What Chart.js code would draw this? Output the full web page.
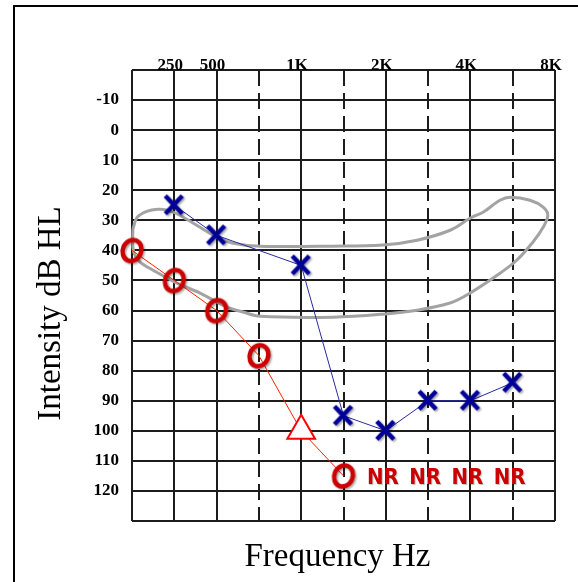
<!DOCTYPE html>
<html>
<head>
<meta charset="utf-8">
<title>Audiogram</title>
<script src="https://cdn.jsdelivr.net/npm/chart.js@4.4.1/dist/chart.umd.min.js"></script>
<style>
  html, body { margin: 0; padding: 0; background: #fff; overflow: hidden; }
  #wrap { position: relative; width: 578px; height: 582px; }
  #frame { position: absolute; left: 13px; top: 5px; right: -10px; bottom: -10px;
           border-left: 2px solid #000; border-top: 2px solid #000; pointer-events: none; }
</style>
</head>
<body>
<div id="wrap"><canvas id="audiogram"></canvas><div id="frame"></div></div>
<script>
// Frequency columns (index along the x axis) and their labels
const freqSteps = [0, 1, 2, 3, 4, 5, 6, 7, 8, 9, 10];
const freqLabels = ['', '250', '500', '', '1K', '', '2K', '', '4K', '', '8K'];
const octaveLines = [0, 1, 2, 4, 6, 8, 10];
const halfOctaveLines = [3, 5, 7, 9];
const dbMin = -20;
const dbMax = 130;

// Right ear: O, one masked point as a triangle
const rightFreq = [0, 1, 2, 3, 4, 5];
const rightDb = [40, 50, 60, 75, 100, 115];
const rightSymbol = ['O', 'O', 'O', 'O', 'tri', 'O'];

// Left ear: X
const leftFreq = [1, 2, 4, 5, 6, 7, 8, 9];
const leftDb = [25, 35, 45, 95, 100, 90, 90, 84];

// No response
const nrFreq = [6, 7, 8, 9];
const nrDb = [115, 115, 115, 115];

// Speech banana outline
const bananaFreq = [0.02, 0.12, 0.35, 0.61, 0.83, 1.13, 1.61, 2.01, 2.39, 3.03, 4.75, 5.93, 6.74, 7.52, 7.99, 8.30, 8.70, 8.94, 9.41, 9.72, 9.83,
                    9.72, 9.48, 9.10, 8.70, 7.99, 7.52, 6.74, 5.93, 4.75, 3.03, 2.62, 2.25, 1.61, 1.06, 0.50, 0.19, 0.07, 0.02, 0.02];
const bananaDb = [33, 29, 27, 26.3, 26.6, 28.3, 32.3, 35.6, 37.6, 38.6, 38.6, 38.2, 36.6, 33.3, 29.3, 27.3, 23.3, 22.3, 23.3, 25.6, 28.3,
                  32.3, 37.2, 43.2, 47.6, 54.2, 57.5, 59.9, 61.2, 62.2, 61.9, 60.5, 58.9, 54.2, 50.9, 46.6, 43.9, 41.6, 38.9, 33];

const gridColor = '#1c1c1c';

// marker images
function makeO() {
  const c = document.createElement('canvas');
  c.width = 32; c.height = 32;
  const g = c.getContext('2d');
  g.shadowColor = 'rgba(0,0,0,0.35)';
  g.shadowOffsetX = 1.5; g.shadowOffsetY = 1.5; g.shadowBlur = 2;
  g.strokeStyle = '#cc0000';
  g.lineWidth = 4.5;
  g.beginPath();
  g.ellipse(16, 16, 9.2, 10.8, 0.4, 0, Math.PI * 2);
  g.stroke();
  return c;
}

function makeX() {
  const c = document.createElement('canvas');
  c.width = 26; c.height = 26;
  const g = c.getContext('2d');
  g.shadowColor = 'rgba(0,0,0,0.35)';
  g.shadowOffsetX = 1.5; g.shadowOffsetY = 1.5; g.shadowBlur = 2;
  g.strokeStyle = '#000099';
  g.lineWidth = 4.5;
  g.beginPath();
  g.moveTo(4, 3.5); g.lineTo(21, 21.5);
  g.moveTo(21, 3.5); g.lineTo(4, 21.5);
  g.stroke();
  return c;
}

const oMark = makeO();
const xMark = makeX();

const extras = {
  id: 'extras',
  afterDatasetsDraw(chart) {
    const { ctx, chartArea, scales: { x, y } } = chart;
    ctx.save();
    // NR labels
    ctx.font = 'bold 22px "DejaVu Sans Condensed", "DejaVu Sans"';
    ctx.fillStyle = '#cc0000';
    ctx.textAlign = 'center';
    ctx.textBaseline = 'middle';
    ctx.shadowColor = 'rgba(0,0,0,0.25)';
    ctx.shadowOffsetX = 1;
    ctx.shadowOffsetY = 1;
    ctx.shadowBlur = 1;
    nrFreq.forEach((f, i) => {
      ctx.fillText('NR', x.getPixelForValue(f) - 3, y.getPixelForValue(nrDb[i]) + 2);
    });
    ctx.shadowColor = 'transparent';
    // axis titles
    ctx.fillStyle = '#000';
    ctx.font = '33px "Liberation Serif"';
    ctx.textBaseline = 'alphabetic';
    ctx.fillText('Frequency Hz', (chartArea.left + chartArea.right) / 2 - 6, chartArea.bottom + 45);
    ctx.translate(60, (chartArea.top + chartArea.bottom) / 2 + 18);
    ctx.rotate(-Math.PI / 2);
    ctx.fillText('Intensity dB HL', 0, 0);
    ctx.restore();
  }
};

const labelFont = { family: 'Liberation Serif', weight: 'bold', size: 17 };

new Chart(document.getElementById('audiogram'), {
  type: 'scatter',
  data: {
    datasets: [
      {
        label: 'Left ear',
        data: leftFreq.map((f, i) => ({ x: f, y: leftDb[i] })),
        showLine: true,
        borderColor: '#2a2aa0',
        borderWidth: 1,
        pointStyle: xMark,
        clip: false,
        order: 1
      },
      {
        label: 'Right ear',
        data: rightFreq.map((f, i) => ({ x: f, y: rightDb[i] })),
        showLine: true,
        borderColor: '#ff2200',
        borderWidth: 1,
        pointStyle: rightSymbol.map(s => s === 'O' ? oMark : 'triangle'),
        pointRadius: 16,
        pointBorderColor: '#ff0000',
        pointBackgroundColor: '#ffffff',
        pointBorderWidth: 2,
        clip: false,
        order: 2
      },
      {
        label: 'Speech banana',
        data: bananaFreq.map((f, i) => ({ x: f, y: bananaDb[i] })),
        showLine: true,
        borderColor: '#a3a3a3',
        borderWidth: 3,
        tension: 0.35,
        pointRadius: 0,
        clip: false,
        order: 3
      }
    ]
  },
  options: {
    responsive: true,
    maintainAspectRatio: false,
    animation: false,
    events: [],
    layout: { padding: { left: 0, right: 23, top: 0, bottom: 61 } },
    plugins: { legend: { display: false }, tooltip: { enabled: false } },
    scales: {
      x: {
        type: 'linear',
        position: 'top',
        min: 0,
        max: 10,
        afterBuildTicks: s => { s.ticks = octaveLines.map(v => ({ value: v })); },
        afterFit: s => { s.height = 70; },
        grid: { color: gridColor, lineWidth: 2, drawTicks: false },
        border: { display: false },
        ticks: {
          autoSkip: false,
          maxRotation: 0,
          padding: -6,
          labelOffset: -4,
          color: '#000',
          font: labelFont,
          callback: v => freqLabels[freqSteps.indexOf(v)]
        }
      },
      xHalf: {
        axis: 'x',
        type: 'linear',
        position: 'top',
        min: 0,
        max: 10,
        afterBuildTicks: s => { s.ticks = halfOctaveLines.map(v => ({ value: v })); },
        afterFit: s => { s.height = 0; },
        grid: { color: gridColor, lineWidth: 2, drawTicks: false },
        border: { display: false, dash: [16, 7] },
        ticks: { display: false }
      },
      y: {
        type: 'linear',
        reverse: true,
        min: dbMin,
        max: dbMax,
        afterFit: s => { s.width = 132; },
        grid: { color: gridColor, lineWidth: 2, drawTicks: false },
        border: { display: false },
        ticks: {
          stepSize: 10,
          autoSkip: false,
          padding: 13,
          color: '#000',
          font: labelFont,
          callback: v => (v === dbMin || v === dbMax) ? '' : v
        }
      }
    }
  },
  plugins: [extras]
});
</script>
</body>
</html>
